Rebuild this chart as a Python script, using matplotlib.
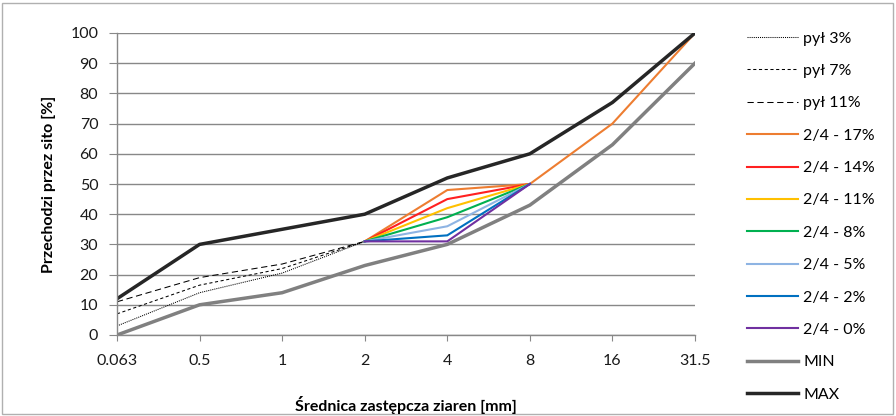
import numpy as np
import matplotlib
matplotlib.use('Agg')
from matplotlib import pyplot as plt
from matplotlib.patches import Rectangle

plt.rcParams['font.family'] = ['Lato', 'DejaVu Sans']

sizes = ['0.063', '0.5', '1', '2', '4', '8', '16', '31.5']
nan = np.nan

pyl_3 = [3, 14, 20.5, 31, nan, nan, nan, nan]
pyl_7 = [7, 16.5, 22, 31, nan, nan, nan, nan]
pyl_11 = [11, 19, 23.5, 31, nan, nan, nan, nan]
m_17 = [nan, nan, nan, 31, 48, 50, 70, 100]
m_14 = [nan, nan, nan, 31, 45, 50, nan, nan]
m_11 = [nan, nan, nan, 31, 42, 50, nan, nan]
m_8 = [nan, nan, nan, 31, 39, 50, nan, nan]
m_5 = [nan, nan, nan, 31, 36, 50, nan, nan]
m_2 = [nan, nan, nan, 31, 33, 50, nan, nan]
m_0 = [nan, nan, nan, 31, 31, 50, nan, nan]
min_curve = [0, 10, 14, 23, 30, 43, 63, 90]
max_curve = [12, 30, 35, 40, 52, 60, 77, 100]

x = np.arange(len(sizes))
fs = 11.5

fig = plt.figure(figsize=(8.96, 4.16), dpi=100)
ax = fig.add_axes([117 / 896, 81 / 416, 578 / 896, 302 / 416])

ax.plot(x, pyl_3, color='black', lw=0.75, dashes=(1, 1), label='pył 3%')
ax.plot(x, pyl_7, color='black', lw=0.75, dashes=(3, 2.5), label='pył 7%')
ax.plot(x, pyl_11, color='black', lw=0.75, dashes=(6, 3.5), label='pył 11%')
ax.plot(x, m_17, color='#ED7D31', lw=1.5, label='2/4 - 17%')
ax.plot(x, m_14, color='#FF2020', lw=1.5, label='2/4 - 14%')
ax.plot(x, m_11, color='#FFC000', lw=1.5, label='2/4 - 11%')
ax.plot(x, m_8, color='#00B050', lw=1.5, label='2/4 - 8%')
ax.plot(x, m_5, color='#8EB4E3', lw=1.5, label='2/4 - 5%')
ax.plot(x, m_2, color='#0070C0', lw=1.5, label='2/4 - 2%')
ax.plot(x, m_0, color='#7030A0', lw=1.5, label='2/4 - 0%')
ax.plot(x, min_curve, color='#808080', lw=2.5, label='MIN')
ax.plot(x, max_curve, color='#262626', lw=2.5, label='MAX')

ax.set_xlim(0, 7)
ax.set_ylim(0, 100)
ax.set_xticks(x)
ax.set_xticklabels(sizes)
ax.set_yticks(range(0, 101, 10))
ax.grid(axis='y', color='#888888', lw=1)
ax.set_axisbelow(True)
for s in ['top', 'right']:
    ax.spines[s].set_visible(False)
for s in ['left', 'bottom']:
    ax.spines[s].set_color('#888888')
    ax.spines[s].set_linewidth(1)
ax.tick_params(axis='both', color='#888888', labelsize=fs, labelcolor='#1a1a1a')
ax.tick_params(axis='y', length=5.5, pad=8)
ax.tick_params(axis='x', length=4.5, pad=9)

ax.set_ylabel('Przechodzi przez sito [%]', fontsize=fs, fontweight='bold',
              labelpad=10)
fig.text(406 / 896, 11 / 416, 'Średnica zastępcza ziaren [mm]', fontsize=fs,
         fontweight='bold', ha='center', va='center')

fig.legend(loc='upper left', bbox_to_anchor=(733 / 896, 399 / 416),
           frameon=False, fontsize=fs, handlelength=3.2, labelspacing=1.14,
           handletextpad=0.3)

fig.patches.append(Rectangle((2 / 896, 2 / 416), 891 / 896, 411 / 416,
                             transform=fig.transFigure, fill=False,
                             edgecolor='#B0B0B0', lw=1))

fig.savefig('out.png', dpi=100)
